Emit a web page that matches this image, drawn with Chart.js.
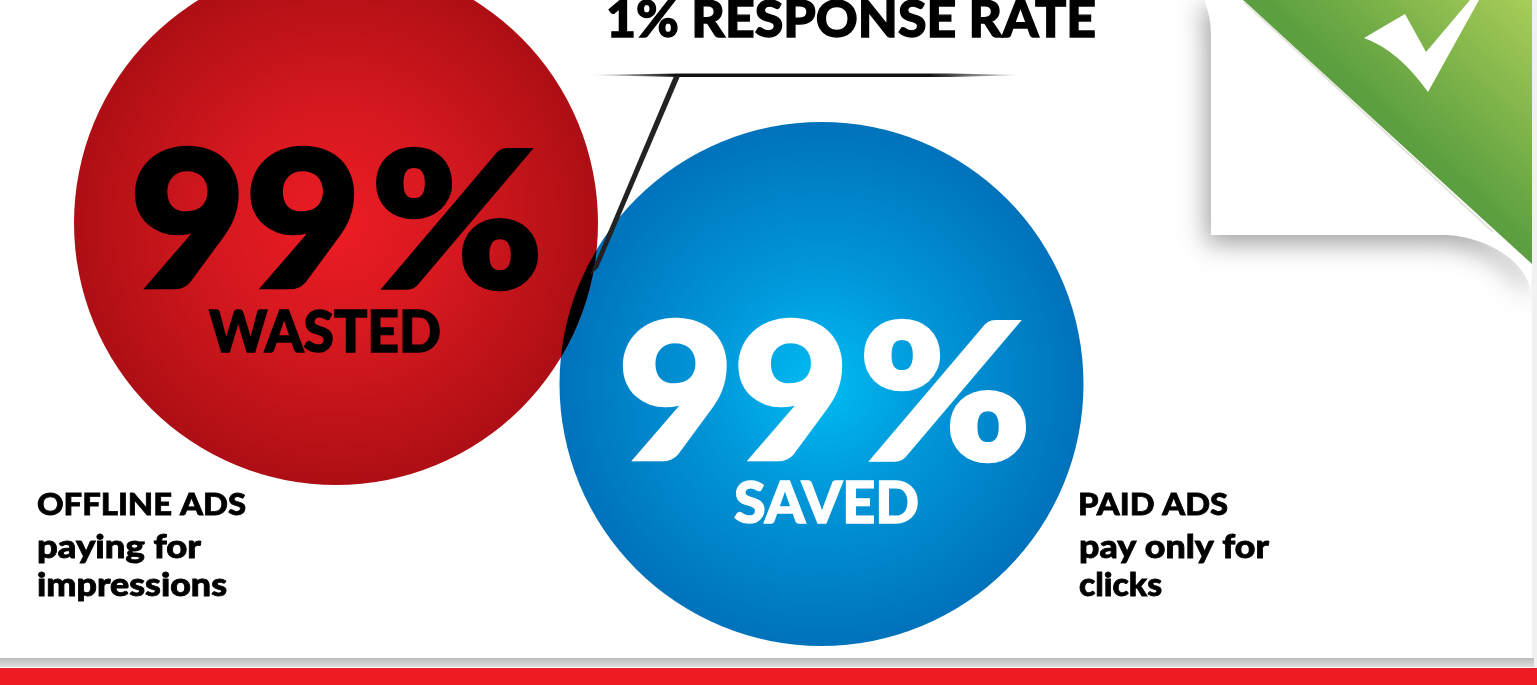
<!DOCTYPE html>
<html>
<head>
<meta charset="utf-8">
<title>Offline ads vs paid ads</title>
<style>
  html, body { margin: 0; padding: 0; background: #fff; overflow: hidden; }
  #wrap { position: absolute; left: 0; top: 0; width: 1537px; height: 685px; }
</style>
<script src="https://cdn.jsdelivr.net/npm/chart.js@4"></script>
</head>
<body>
<div id="wrap"><canvas id="adsChart" width="1537" height="685"></canvas></div>
<script>
const categories = ['OFFLINE ADS', 'PAID ADS'];
const categoryNotes = [['paying for', 'impressions'], ['pay only for', 'clicks']];
const wastedShare = [99];
const savedShare = [99];
const responseRate = [1];
const outcomeLabels = ['WASTED', 'SAVED'];

const BUBBLE_RADIUS = 262;
const FONT = 'Lato, "Open Sans", sans-serif';

function radialFill(context, stops) {
  const { chart } = context;
  const cx = chart.scales.x.getPixelForValue(context.datasetIndex);
  const cy = chart.scales[context.dataset.yAxisID].getPixelForValue(context.dataset.data[0].y);
  // scales have no size yet on the first pass
  if (!Number.isFinite(cx) || !Number.isFinite(cy)) return stops[0][1];
  const grad = chart.ctx.createRadialGradient(cx, cy, 0, cx, cy, BUBBLE_RADIUS);
  stops.forEach(([at, color]) => grad.addColorStop(at, color));
  return grad;
}

// heavy text fitted to a given width, the stroke fattens the strokes of the face
function putText(ctx, text, left, baseline, size, width, color, heavy = 0.025) {
  ctx.save();
  ctx.font = `900 ${size}px ${FONT}`;
  ctx.fillStyle = color;
  ctx.strokeStyle = color;
  ctx.lineWidth = size * heavy;
  ctx.lineJoin = 'miter';
  ctx.textBaseline = 'alphabetic';
  ctx.textAlign = 'left';
  const natural = ctx.measureText(text).width;
  ctx.translate(left, baseline);
  ctx.scale(width / natural, 1);
  ctx.fillText(text, 0, 0);
  ctx.strokeText(text, 0, 0);
  ctx.restore();
}

function drawPage(ctx) {
  ctx.save();
  // sheet edge and footer bar
  ctx.fillStyle = '#f1f1f1';
  ctx.fillRect(1532, 0, 5, 668);
  ctx.fillStyle = '#fff';
  ctx.fillRect(0, 0, 1532, 658);
  const band = ctx.createLinearGradient(0, 658, 0, 667);
  band.addColorStop(0, '#bcbcbc');
  band.addColorStop(1, '#dcdcdc');
  ctx.fillStyle = band;
  ctx.fillRect(0, 658, 1534, 9);
  ctx.fillStyle = '#ed1c24';
  ctx.fillRect(0, 668, 1537, 17);

  // peeled corner
  ctx.save();
  ctx.beginPath();
  ctx.rect(0, 0, 1532, 658);
  ctx.clip();
  ctx.shadowColor = 'rgba(0,0,0,0.38)';
  ctx.shadowBlur = 26;
  ctx.shadowOffsetX = -4;
  ctx.shadowOffsetY = 8;
  ctx.fillStyle = '#fff';
  ctx.beginPath();
  ctx.moveTo(1204, 0);
  ctx.quadraticCurveTo(1211, 16, 1211, 36);
  ctx.lineTo(1211, 235);
  ctx.lineTo(1447, 235);
  ctx.bezierCurveTo(1490, 238, 1526, 262, 1531, 292);
  ctx.lineTo(1532, 264);
  ctx.lineTo(1243, 0);
  ctx.closePath();
  ctx.fill();
  ctx.restore();

  const leaf = ctx.createLinearGradient(1532, 0, 1408, 134);
  leaf.addColorStop(0, '#a9cd58');
  leaf.addColorStop(1, '#5c9f40');
  ctx.fillStyle = leaf;
  ctx.beginPath();
  ctx.moveTo(1243, 0);
  ctx.lineTo(1532, 0);
  ctx.lineTo(1532, 264);
  ctx.closePath();
  ctx.fill();
  ctx.strokeStyle = '#e4e6dc';
  ctx.lineWidth = 2;
  ctx.beginPath();
  ctx.moveTo(1244, 2);
  ctx.lineTo(1493, 232);
  ctx.stroke();

  // check mark
  ctx.fillStyle = '#fff';
  ctx.beginPath();
  ctx.moveTo(1364, 38);
  ctx.lineTo(1405, 14);
  ctx.lineTo(1426, 52);
  ctx.lineTo(1470, 0);
  ctx.lineTo(1479, 0);
  ctx.lineTo(1428, 92);
  ctx.quadraticCurveTo(1398, 50, 1364, 38);
  ctx.closePath();
  ctx.fill();
  ctx.restore();
}

function drawCallout(ctx) {
  ctx.save();
  const rule = ctx.createLinearGradient(587, 0, 1025, 0);
  rule.addColorStop(0, 'rgba(0,0,0,0)');
  rule.addColorStop(0.2, '#111');
  rule.addColorStop(0.78, '#111');
  rule.addColorStop(1, 'rgba(0,0,0,0)');
  ctx.fillStyle = rule;
  ctx.beginPath();
  ctx.moveTo(587, 75);
  ctx.lineTo(680, 73.5);
  ctx.lineTo(950, 73.5);
  ctx.lineTo(1025, 75);
  ctx.lineTo(950, 77);
  ctx.lineTo(680, 77);
  ctx.closePath();
  ctx.fill();
  ctx.fillStyle = '#222';
  ctx.beginPath();
  ctx.moveTo(674, 76);
  ctx.lineTo(680, 76);
  ctx.lineTo(598, 268);
  ctx.lineTo(590, 275);
  ctx.closePath();
  ctx.fill();
  ctx.restore();
}

const adsPlugin = {
  id: 'adsPlugin',
  beforeDatasetsDraw(chart) {
    drawPage(chart.ctx);
  },
  afterDatasetsDraw(chart) {
    const ctx = chart.ctx;
    const a = chart.getDatasetMeta(0).data[0];
    const b = chart.getDatasetMeta(1).data[0];

    // the overlap of the two circles stands for the response rate
    ctx.save();
    ctx.beginPath();
    ctx.arc(a.x, a.y, BUBBLE_RADIUS, 0, Math.PI * 2);
    ctx.clip();
    ctx.fillStyle = '#000';
    ctx.beginPath();
    ctx.arc(b.x, b.y, BUBBLE_RADIUS, 0, Math.PI * 2);
    ctx.fill();
    ctx.restore();

    drawCallout(ctx);

    putText(ctx, `${responseRate[0]}% RESPONSE RATE`, 606, 37, 51, 490, '#000');

    // digits and percent sign are fitted apart, the percent sign is narrower in this face
    putText(ctx, `${wastedShare[0]}`, 130, 287, 188, 231, '#000');
    putText(ctx, '%', 371, 287, 188, 172, '#000');
    putText(ctx, outcomeLabels[0], 209, 352, 57, 232, '#000');
    putText(ctx, `${savedShare[0]}`, 618, 459, 188, 231, '#fff');
    putText(ctx, '%', 859, 459, 188, 172, '#fff');
    putText(ctx, outcomeLabels[1], 734, 523, 57, 185, '#fff');

    putText(ctx, categories[0], 37, 515, 31, 209, '#000');
    putText(ctx, categoryNotes[0][0], 37, 558, 33, 164, '#000');
    putText(ctx, categoryNotes[0][1], 37, 596, 33, 190, '#000');
    putText(ctx, categories[1], 1078, 515, 31, 150, '#000');
    putText(ctx, categoryNotes[1][0], 1079, 558, 33, 190, '#000');
    putText(ctx, categoryNotes[1][1], 1079, 596, 33, 83, '#000');
  }
};

new Chart(document.getElementById('adsChart'), {
  type: 'bubble',
  data: {
    datasets: [
      {
        label: outcomeLabels[0],
        data: wastedShare.map(v => ({ x: 0, y: v })),
        yAxisID: 'y',
        clip: false,
        radius: BUBBLE_RADIUS,
        borderWidth: 0,
        backgroundColor: ctx => radialFill(ctx, [[0, '#ed1c24'], [0.45, '#d5181f'], [1, '#ad0f14']])
      },
      {
        label: outcomeLabels[1],
        data: savedShare.map(v => ({ x: 1, y: v })),
        yAxisID: 'y2',
        clip: false,
        radius: BUBBLE_RADIUS,
        borderWidth: 0,
        backgroundColor: ctx => radialFill(ctx, [[0, '#00bcf3'], [0.45, '#0195d8'], [1, '#0072bc']])
      }
    ]
  },
  options: {
    responsive: false,
    animation: false,
    events: [],
    layout: { padding: 0, autoPadding: false },
    plugins: { legend: { display: false }, tooltip: { enabled: false } },
    scales: {
      // one unit on x is the distance between the two circles
      x: { type: 'linear', display: false, min: -336 / 485.5, max: (1537 - 336) / 485.5 },
      // y axes in pixels, each placing its own 99 at the circle's height
      y: { type: 'linear', display: false, min: -363, max: 322 },
      y2: { type: 'linear', display: false, min: -202, max: 483 }
    }
  },
  plugins: [adsPlugin]
});
</script>
</body>
</html>
